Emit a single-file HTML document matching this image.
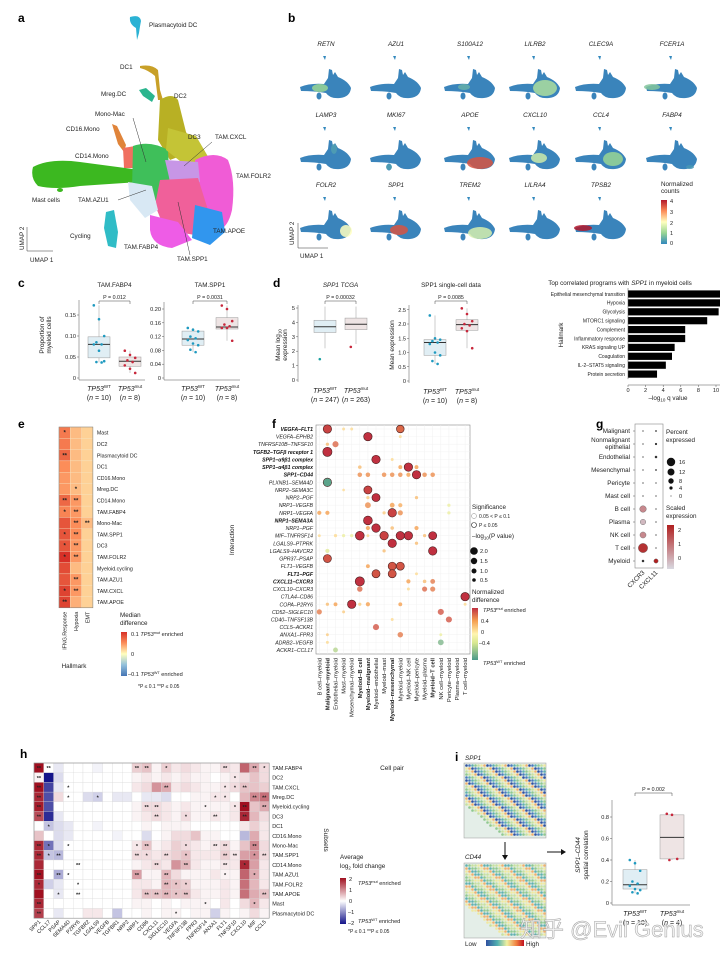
<!DOCTYPE html>
<html><head><meta charset="utf-8">
<style>
html,body{margin:0;padding:0;background:#fff;}
svg{display:block;font-family:"Liberation Sans","Noto Sans CJK SC",sans-serif;}
.pl{font-weight:bold;font-size:12px;}
.t{font-size:5.6px;fill:#222;}
.ti{font-size:5.6px;fill:#222;font-style:italic;}
.tb{font-size:5.6px;fill:#111;font-weight:bold;font-style:italic;}
</style></head>
<body>
<svg id="fig" width="720" height="959" viewBox="0 0 720 959" xmlns="http://www.w3.org/2000/svg">
<defs>
<linearGradient id="gSpec" x1="0" y1="1" x2="0" y2="0"><stop offset="0" stop-color="#3288bd"/><stop offset="0.25" stop-color="#99d594"/><stop offset="0.5" stop-color="#ffffbf"/><stop offset="0.75" stop-color="#fc8d59"/><stop offset="1" stop-color="#b2182b"/></linearGradient>
<linearGradient id="gRdYlBu" x1="0" y1="1" x2="0" y2="0"><stop offset="0" stop-color="#4575b4"/><stop offset="0.25" stop-color="#91bfdb"/><stop offset="0.5" stop-color="#ffffbf"/><stop offset="0.75" stop-color="#fc8d59"/><stop offset="1" stop-color="#d73027"/></linearGradient>
<linearGradient id="gF" x1="0" y1="1" x2="0" y2="0"><stop offset="0" stop-color="#4a9a8a"/><stop offset="0.33" stop-color="#d8e890"/><stop offset="0.5" stop-color="#fff5b0"/><stop offset="0.75" stop-color="#f5a050"/><stop offset="1" stop-color="#c03040"/></linearGradient>
<linearGradient id="gG" x1="0" y1="1" x2="0" y2="0"><stop offset="0" stop-color="#d8d8e0"/><stop offset="1" stop-color="#b02020"/></linearGradient>
<linearGradient id="gH" x1="0" y1="1" x2="0" y2="0"><stop offset="0" stop-color="#14148a"/><stop offset="0.5" stop-color="#ffffff"/><stop offset="1" stop-color="#a01020"/></linearGradient>
<linearGradient id="gI" x1="0" y1="0" x2="1" y2="0"><stop offset="0" stop-color="#3050a0"/><stop offset="0.3" stop-color="#50b0b0"/><stop offset="0.55" stop-color="#f0f0a0"/><stop offset="0.8" stop-color="#f08040"/><stop offset="1" stop-color="#c01020"/></linearGradient>
<symbol id="mini" viewBox="0 0 56 46" width="56" height="46">
<path d="M25,0 l3,0 l-1,4 z" fill="#3288bd"/>
<path d="M2,31 Q12,27 26,28 L30,22 L31,13 L34,14 L35,19 L37,16 L40,21 Q50,25 53,32 Q52,41 42,42 Q32,43 28,37 Q16,35 3,35 Z" fill="#3a84bb"/>
<ellipse cx="21" cy="40" rx="2.5" ry="3.5" fill="#3a84bb"/>
</symbol>
</defs>

<!-- Panel a -->
<g>
<text class="pl" x="18" y="22">a</text>
<path d="M130,17 Q140,14 141,21 Q140,26 139,33 L137,40 L136,28 Q129,24 130,17Z" fill="#2bb2d4"/>
<path d="M140,66 Q152,64 158,70 L160,90 L163,100 L158,100 L155,76 Q148,70 140,68Z" fill="#c8a028"/>
<path d="M139,90 L146,88 L155,96 L152,102 L143,96Z" fill="#2bb58e"/>
<path d="M160,100 Q172,92 178,100 L186,132 L196,150 L170,160 L158,140Z" fill="#b8b024"/>
<path d="M112,124 L117,126 L126,145 L124,152 L118,144Z" fill="#e0843a"/>
<path d="M33,167 Q50,158 80,162 Q110,166 140,170 L140,182 Q110,184 80,186 Q55,190 38,186 Q30,178 33,167Z" fill="#3cb820"/>
<ellipse cx="60" cy="190" rx="3" ry="2" fill="#3cb820"/>
<path d="M123,148 L135,146 L136,168 L124,168Z" fill="#f07060"/>
<path d="M133,146 Q150,140 168,150 L170,190 L150,205 L132,190Z" fill="#3fbf5a"/>
<path d="M168,128 L196,136 L210,160 L185,165 L166,150Z" fill="#c4c436"/>
<path d="M195,160 Q215,150 228,160 Q236,180 232,210 Q228,228 218,230 L200,205Z" fill="#f05cd6"/>
<path d="M165,160 L198,162 L200,182 L172,190Z" fill="#c796e6"/>
<path d="M160,180 L198,178 L208,210 L195,235 L165,230 L155,205Z" fill="#f0609a"/>
<path d="M195,205 L222,212 L225,232 L210,245 L192,238Z" fill="#3196ee"/>
<path d="M150,215 L178,222 L192,240 L172,248 Q152,246 150,230Z" fill="#ee5ce6"/>
<path d="M128,182 L152,186 L158,210 L145,218 L130,200Z" fill="#d8e8f4"/>
<path d="M106,212 L114,210 L118,232 L116,248 L108,246 L104,228Z" fill="#30bcc6"/>
<g fill="none" stroke="#333" stroke-width="0.5">
<line x1="133" y1="118" x2="146" y2="162"/><line x1="212" y1="142" x2="184" y2="166"/><line x1="118" y1="200" x2="146" y2="190"/><line x1="190" y1="255" x2="178" y2="202"/>
<polyline points="27,227 27,251 53,251"/>
</g>
<g class="t" style="font-size:6.3px">
<text x="149" y="27">Plasmacytoid DC</text><text x="120" y="69">DC1</text><text x="101" y="96">Mreg.DC</text><text x="174" y="98">DC2</text><text x="95" y="116">Mono-Mac</text><text x="66" y="131">CD16.Mono</text><text x="188" y="139">DC3</text><text x="215" y="139">TAM.CXCL</text><text x="75" y="158">CD14.Mono</text><text x="236" y="178">TAM.FOLR2</text><text x="32" y="202">Mast cells</text><text x="78" y="202">TAM.AZU1</text><text x="70" y="238">Cycling</text><text x="124" y="249">TAM.FABP4</text><text x="213" y="233">TAM.APOE</text><text x="177" y="261">TAM.SPP1</text>
<text x="30" y="262">UMAP 1</text><text transform="translate(24,250) rotate(-90)">UMAP 2</text>
</g>
</g>

<!-- Panel b -->
<g id="pb">
<text class="pl" x="288" y="22">b</text>
<polyline points="298,223 298,248 328,248" fill="none" stroke="#333" stroke-width="0.5"/>
<text class="t" x="300" y="258" style="font-size:6.3px">UMAP 1</text>
<text class="t" transform="translate(294,245) rotate(-90)" style="font-size:6.3px">UMAP 2</text>
<text class="t" x="661" y="186" style="font-size:6.3px">Normalized</text>
<text class="t" x="661" y="193" style="font-size:6.3px">counts</text>
<rect x="661" y="200" width="6" height="44" fill="url(#gSpec)"/>
<g class="t"><text x="670" y="203">4</text><text x="670" y="214">3</text><text x="670" y="225">2</text><text x="670" y="235">1</text><text x="670" y="245">0</text></g>
</g>

<!-- Panel c -->
<g id="pc">
<text class="pl" x="18" y="287">c</text>
<text class="t" transform="translate(44,335) rotate(-90)" text-anchor="middle" style="font-size:6.5px">Proportion of</text>
<text class="t" transform="translate(51,335) rotate(-90)" text-anchor="middle" style="font-size:6.5px">myeloid cells</text>
</g>

<!-- Panel d -->
<g id="pd">
<text class="pl" x="273" y="287">d</text>
<text class="t" transform="translate(280,345) rotate(-90)" text-anchor="middle" style="font-size:6.5px">Mean log<tspan font-size="4.5" dy="1.5">10</tspan></text>
<text class="t" transform="translate(287,345) rotate(-90)" text-anchor="middle" style="font-size:6.5px">expression</text>
<text class="t" transform="translate(394,345) rotate(-90)" text-anchor="middle" style="font-size:6.5px">Mean expression</text>
<text class="t" x="620" y="285" text-anchor="middle" style="font-size:6.3px">Top correlated programs with <tspan font-style="italic">SPP1</tspan> in myeloid cells</text>
<text class="t" transform="translate(563,335) rotate(-90)" text-anchor="middle" style="font-size:6.3px">Hallmark</text>
<text class="t" x="668" y="400" text-anchor="middle" style="font-size:6.3px">–log<tspan font-size="4.5" dy="1.5">10</tspan><tspan dy="-1.5"> q value</tspan></text>
</g>

<!-- Panel e -->
<g id="pe">
<text class="pl" x="18" y="428">e</text>
<text class="t" x="74" y="668" text-anchor="middle" style="font-size:6.3px">Hallmark</text>
<text class="t" x="120" y="617" style="font-size:6.3px">Median</text>
<text class="t" x="120" y="625" style="font-size:6.3px">difference</text>
<rect x="121" y="632" width="6" height="44" fill="url(#gRdYlBu)"/>
<text class="t" x="131" y="636">0.1 <tspan font-style="italic">TP53</tspan><tspan font-size="3.8" dy="-2">mut</tspan><tspan dy="2"> enriched</tspan></text>
<text class="t" x="131" y="656">0</text>
<text class="t" x="128" y="676">–0.1 <tspan font-style="italic">TP53</tspan><tspan font-size="3.8" dy="-2">WT</tspan><tspan dy="2"> enriched</tspan></text>
<text class="t" x="138" y="688" style="font-size:5px">*P ≤ 0.1   **P ≤ 0.05</text>
</g>

<!-- Panel f -->
<g id="pf">
<text class="pl" x="272" y="428">f</text>
<rect x="316" y="425" width="154" height="229" fill="none" stroke="#888" stroke-width="0.6"/>
<text class="t" transform="translate(234,540) rotate(-90)" text-anchor="middle" style="font-size:6.5px">Interaction</text>
<text class="t" x="392" y="770" text-anchor="middle" style="font-size:6.5px">Cell pair</text>
<text class="t" x="472" y="509" style="font-size:6.3px">Significance</text>
<circle cx="474" cy="516" r="2.5" fill="none" stroke="#888" stroke-width="0.5"/><text class="t" x="479" y="518" style="font-size:5px">0.05 &lt; P ≤ 0.1</text>
<circle cx="474" cy="525" r="2.5" fill="none" stroke="#222" stroke-width="0.6"/><text class="t" x="479" y="527" style="font-size:5px">P ≤ 0.05</text>
<text class="t" x="472" y="538" style="font-size:6.3px">–log<tspan font-size="4.5" dy="1.5">10</tspan><tspan dy="-1.5">(P value)</tspan></text>
<circle cx="474" cy="551" r="3.8" fill="#111"/><text class="t" x="480" y="553">2.0</text>
<circle cx="474" cy="561" r="3.2" fill="#111"/><text class="t" x="480" y="563">1.5</text>
<circle cx="474" cy="571" r="2.5" fill="#111"/><text class="t" x="480" y="573">1.0</text>
<circle cx="474" cy="580" r="1.8" fill="#111"/><text class="t" x="480" y="582">0.5</text>
<text class="t" x="472" y="594" style="font-size:6.3px">Normalized</text>
<text class="t" x="472" y="602" style="font-size:6.3px">difference</text>
<rect x="472" y="608" width="6" height="52" fill="url(#gF)"/>
<text class="ti" x="483" y="612">TP53<tspan font-size="3.8" dy="-2" font-style="normal">mut</tspan><tspan dy="2" font-style="normal"> enriched</tspan></text>
<text class="t" x="481" y="623">0.4</text><text class="t" x="481" y="634">0</text><text class="t" x="479" y="645">–0.4</text>
<text class="ti" x="483" y="665">TP53<tspan font-size="3.8" dy="-2" font-style="normal">WT</tspan><tspan dy="2" font-style="normal"> enriched</tspan></text>
</g>

<!-- Panel g -->
<g id="pg">
<text class="pl" x="596" y="428">g</text>
<rect x="635" y="424" width="28" height="144" fill="none" stroke="#888" stroke-width="0.6"/>
<text class="t" x="666" y="434" style="font-size:6.3px">Percent</text><text class="t" x="666" y="442" style="font-size:6.3px">expressed</text>
<circle cx="671" cy="462" r="4.2" fill="#111"/><text class="t" x="679" y="464">16</text>
<circle cx="671" cy="472" r="3.5" fill="#111"/><text class="t" x="679" y="474">12</text>
<circle cx="671" cy="481" r="2.7" fill="#111"/><text class="t" x="679" y="483">8</text>
<circle cx="671" cy="488" r="1.6" fill="#111"/><text class="t" x="679" y="490">4</text>
<circle cx="671" cy="496" r="0.5" fill="#111"/><text class="t" x="679" y="498">0</text>
<text class="t" x="666" y="510" style="font-size:6.3px">Scaled</text><text class="t" x="666" y="518" style="font-size:6.3px">expression</text>
<rect x="667" y="525" width="7" height="44" fill="url(#gG)"/>
<text class="t" x="678" y="532">2</text><text class="t" x="678" y="546">1</text><text class="t" x="678" y="560">0</text>
</g>

<!-- Panel h -->
<g id="ph">
<text class="pl" x="20" y="758">h</text>
<text class="t" transform="translate(324,840) rotate(90)" text-anchor="middle" style="font-size:6.5px">Subsets</text>
<text class="t" x="340" y="859" style="font-size:6.3px">Average</text>
<text class="t" x="340" y="868" style="font-size:6.3px">log<tspan font-size="4.5" dy="1.5">2</tspan><tspan dy="-1.5"> fold change</tspan></text>
<rect x="340" y="878" width="6" height="46" fill="url(#gH)"/>
<g class="t"><text x="349" y="881">2</text><text x="349" y="892">1</text><text x="349" y="903">0</text><text x="348" y="914">–1</text><text x="348" y="925">–2</text></g>
<text class="ti" x="358" y="885">TP53<tspan font-size="3.8" dy="-2" font-style="normal">mut</tspan><tspan dy="2" font-style="normal"> enriched</tspan></text>
<text class="ti" x="358" y="923">TP53<tspan font-size="3.8" dy="-2" font-style="normal">WT</tspan><tspan dy="2" font-style="normal"> enriched</tspan></text>
<text class="t" x="348" y="933" style="font-size:5px">*P ≤ 0.1   **P ≤ 0.05</text>
</g>

<!-- Panel i -->
<g id="pi">
<text class="pl" x="455" y="761">i</text>
<text class="ti" x="465" y="760" style="font-size:6.3px">SPP1</text>
<text class="ti" x="465" y="859" style="font-size:6.3px">CD44</text>
<rect x="464" y="763" width="82" height="75" fill="#e4eee8" stroke="#999" stroke-width="0.5"/>
<rect x="464" y="863" width="82" height="75" fill="#e4eee8" stroke="#999" stroke-width="0.5"/>
<line x1="505" y1="842" x2="505" y2="857" stroke="#111" stroke-width="1"/><path d="M502,855 L508,855 L505,860Z" fill="#111"/>
<line x1="547" y1="852" x2="562" y2="852" stroke="#111" stroke-width="1"/><path d="M561,849 L566,852 L561,855Z" fill="#111"/>
<text class="t" x="465" y="946" style="font-size:6.3px">Low</text>
<rect x="486" y="940" width="38" height="6" fill="url(#gI)"/>
<text class="t" x="526" y="946" style="font-size:6.3px">High</text>
<text class="ti" transform="translate(580,855) rotate(-90)" text-anchor="middle" style="font-size:6.3px">SPP1–CD44</text>
<text class="t" transform="translate(588,855) rotate(-90)" text-anchor="middle" style="font-size:6.3px">spatial correlation</text>
</g>
<text x="520" y="937" style="font-size:22px;fill:#f4f4f4;stroke:#999;stroke-width:0.5;opacity:0.9">知乎 @Evil Genius</text>
</svg>

<script>
var NS='http://www.w3.org/2000/svg';
var svg=document.getElementById('fig');
function mk(tag,attrs,parent,name){var el=document.createElementNS(NS,tag);for(var k in attrs)el.setAttribute(k,attrs[k]);


(parent||svg).appendChild(el);return el;}
function txt(x,y,s,cls,parent,name,anchor,extra){var el=mk('text',{x:x,y:y,'class':cls||'t'},parent,name);if(anchor)el.setAttribute('text-anchor',anchor);if(extra)el.setAttribute('style',extra);el.textContent=s;return el;}
function lerpC(stops,v){
 if(v<=stops[0][0])return rgb(stops[0][1]);
 for(var i=1;i<stops.length;i++){if(v<=stops[i][0]){var a=stops[i-1],b=stops[i],t=(v-a[0])/(b[0]-a[0]);return rgb([0,1,2].map(function(j){return a[1][j]+(b[1][j]-a[1][j])*t;}));}}
 return rgb(stops[stops.length-1][1]);}
function rgb(c){return 'rgb('+c.map(function(x){return Math.round(x);}).join(',')+')';}

// ---------- b: feature plots ----------
var bGenes=['RETN','AZU1','S100A12','LILRB2','CLEC9A','FCER1A','LAMP3','MKI67','APOE','CXCL10','CCL4','FABP4','FOLR2','SPP1','TREM2','LILRA4','TPSB2'];
var bHigh=[1,0,0.5,1.2,0,0.8,0.3,0.3,3.5,1.5,1,0.2,2,3.5,1.6,0,4];
var bColX=[326,396,470,535,601,672];
var bRowY=[46,117,187];
var gb=document.getElementById('pb');
var spec=[[0,[50,136,189]],[1,[153,213,148]],[2,[255,255,191]],[3,[252,141,89]],[4,[178,24,43]]];
var bRegion={RETN:[22,32,8,4],S100A12:[22,31,6,3],LILRB2:[38,32,12,8],FCER1A:[8,31,8,3],CXCL10:[32,31,8,5],CCL4:[40,32,10,7],APOE:[38,36,13,6],SPP1:[31,33,9,5],FOLR2:[48,34,6,6],TREM2:[38,36,12,6],TPSB2:[10,31,9,3],MKI67:[21,40,3,3],LAMP3:[36,22,3,5],FABP4:[46,40,4,2]};
bGenes.forEach(function(g,i){
 var cx=bColX[i%6], ty=bRowY[Math.floor(i/6)];
 txt(cx,ty,g,'ti',gb,'gene-title-'+g.toLowerCase(),'middle','font-size:6.3px');
 mk('use',{href:'#mini',x:cx-28,y:ty+10},gb,'umap-'+g.toLowerCase());
 var r=bRegion[g];
 if(r&&bHigh[i]>0){
  mk('ellipse',{cx:cx-28+r[0],cy:ty+10+r[1],rx:r[2],ry:r[3],fill:lerpC(spec,bHigh[i]),opacity:0.85},gb,'expression-'+g.toLowerCase());
 }
});

// ---------- c: boxplots ----------
var cTitles=['TAM.FABP4','TAM.SPP1'];
var cPvals=['P = 0.012','P = 0.0031'];
var cWT1=[0.173,0.14,0.10,0.085,0.08,0.08,0.065,0.04,0.038,0.037];
var cMut1=[0.065,0.055,0.048,0.042,0.038,0.03,0.022,0.012];
var cWT2=[0.145,0.14,0.135,0.12,0.115,0.11,0.1,0.095,0.082,0.075];
var cMut2=[0.21,0.2,0.165,0.155,0.15,0.145,0.145,0.108];
var cBoxWT1=[0.048,0.08,0.098], cBoxMut1=[0.028,0.04,0.05];
var cBoxWT2=[0.095,0.113,0.136], cBoxMut2=[0.142,0.148,0.175];
var cTicks1=[0,0.05,0.10,0.15], cTicks2=[0,0.04,0.08,0.12,0.16,0.20];
var cTickLab1=['0','0.05','0.10','0.15'], cTickLab2=['0','0.04','0.08','0.12','0.16','0.20'];
var WTc='#1f9ac0', MUTc='#c8283c';
function boxPanel(p){
 var g=p.g, y=function(v){return p.y0-(v-p.ymin)*p.sc;};
 mk('line',{x1:p.ax,y1:p.ytop,x2:p.ax,y2:p.y0+2,stroke:'#555','stroke-width':0.5},g,'y-axis');
 if(p.xaxis)mk('line',{x1:p.ax,y1:p.y0+2,x2:p.xr,y2:p.y0+2,stroke:'#555','stroke-width':0.5},g,'x-axis');
 p.ticks.forEach(function(v,i){mk('line',{x1:p.ax-2,y1:y(v),x2:p.ax,y2:y(v),stroke:'#555','stroke-width':0.5},g,'y-tick');txt(p.ax-3,y(v)+2,p.tlab[i],'t',g,'y-tick-label','end');});
 [[p.xw,p.bw,p.pw,p.cw,'#e0eef4'],[p.xm,p.bm,p.pm,p.cm,'#eee4e4']].forEach(function(s,k){
  var x=s[0],b=s[1];
  if(b[3]!==undefined){mk('line',{x1:x,y1:y(b[3]),x2:x,y2:y(b[4]),stroke:'#999','stroke-width':0.5},g,'whisker');}
  else {var mx=Math.max.apply(null,s[2]),mn=Math.min.apply(null,s[2]);mk('line',{x1:x,y1:y(mn),x2:x,y2:y(mx),stroke:'#999','stroke-width':0.5},g,'whisker');}
  mk('rect',{x:x-p.hw,y:y(b[2]),width:p.hw*2,height:y(b[0])-y(b[2]),fill:s[4],stroke:'#999','stroke-width':0.5},g,k?'box-mut':'box-wt');
  mk('line',{x1:x-p.hw,y1:y(b[1]),x2:x+p.hw,y2:y(b[1]),stroke:'#333','stroke-width':1},g,'median-line');
  s[2].forEach(function(v,i){mk('circle',{cx:x+((i*7)%5-2)*2.6,cy:y(v),r:1.3,fill:s[3]},g,k?'point-mut':'point-wt');});
 });
 txt((p.xw+p.xm)/2,p.ty,p.title,p.tcls||'t',g,'plot-title','middle','font-size:6.3px');
 var by=p.ty+14;
 mk('polyline',{points:p.xw+','+(by+3)+' '+p.xw+','+by+' '+p.xm+','+by+' '+p.xm+','+(by+3),fill:'none',stroke:'#444','stroke-width':0.5},g,'significance-bracket');
 txt((p.xw+p.xm)/2,by-2,p.pval,'t',g,'p-value','middle','font-size:5.3px');
 [[p.xw,'WT',p.nw],[p.xm,'mut',p.nm]].forEach(function(s){
  var t=mk('text',{x:s[0],y:p.y0+13,'class':'ti','text-anchor':'middle',style:'font-size:7px'},g,'x-label-tp53');
  t.innerHTML='TP53<tspan font-size="4.5" dy="-3" font-style="normal">'+s[1]+'</tspan>';
  var n=mk('text',{x:s[0],y:p.y0+22,'class':'t','text-anchor':'middle',style:'font-size:7px'},g,'x-label-n');
  n.innerHTML='(<tspan font-style="italic">n</tspan> = '+s[2]+')';
 });
}
var gc=document.getElementById('pc');
boxPanel({g:gc,ax:79,xr:145,y0:378,ymin:0,sc:420,ytop:300,ticks:cTicks1,tlab:cTickLab1,xw:99,xm:130,hw:11,bw:cBoxWT1,bm:cBoxMut1,pw:cWT1,pm:cMut1,cw:WTc,cm:MUTc,title:cTitles[0],pval:cPvals[0],ty:287,nw:10,nm:8,xaxis:true});
boxPanel({g:gc,ax:164,xr:240,y0:378,ymin:0,sc:345,ytop:302,ticks:cTicks2,tlab:cTickLab2,xw:193,xm:227,hw:11,bw:cBoxWT2,bm:cBoxMut2,pw:cWT2,pm:cMut2,cw:WTc,cm:MUTc,title:cTitles[1],pval:cPvals[1],ty:287,nw:10,nm:8,xaxis:true});

// ---------- d: boxplots ----------
var gd=document.getElementById('pd');
var dBoxWT1=[3.3,3.7,4.15,2.2,5.1], dBoxMut1=[3.5,3.87,4.3,2.5,5.1];
var dOutWT1=[1.45], dOutMut1=[2.3];
var dTicks1=[0,1,2,3,4,5], dTickLab1=['0','1','2','3','4','5'];
var dWT2=[2.3,1.5,1.45,1.4,1.35,1.3,1.0,0.9,0.7,0.6];
var dMut2=[2.55,2.35,2.1,2.0,1.95,1.85,1.75,1.15];
var dBoxWT2=[0.9,1.35,1.45], dBoxMut2=[1.78,1.98,2.15];
var dTicks2=[0,0.5,1.0,1.5,2.0,2.5], dTickLab2=['0','0.5','1.0','1.5','2.0','2.5'];
boxPanel({g:gd,ax:298,xr:372,y0:380,ymin:0,sc:14.4,ytop:305,ticks:dTicks1,tlab:dTickLab1,xw:325,xm:356,hw:11,bw:dBoxWT1,bm:dBoxMut1,pw:dOutWT1,pm:dOutMut1,cw:'#1aa0a0',cm:MUTc,title:'SPP1 TCGA',tcls:'ti',pval:'P = 0.00032',ty:287,nw:247,nm:263,xaxis:false});
boxPanel({g:gd,ax:409,xr:480,y0:381,ymin:0,sc:28.5,ytop:305,ticks:dTicks2,tlab:dTickLab2,xw:435,xm:467,hw:11,bw:dBoxWT2,bm:dBoxMut2,pw:dWT2,pm:dMut2,cw:WTc,cm:MUTc,title:'SPP1 single-cell data',pval:'P = 0.0085',ty:287,nw:10,nm:8,xaxis:false});

// hallmark bars
var hmNames=['Epithelial mesenchymal transition','Hypoxia','Glycolysis','MTORC1 signaling','Complement','Inflammatory response','KRAS signaling UP','Coagulation','IL-2–STAT5 signaling','Protein secretion'];
var hmVals=[11.5,11.2,10.3,9.0,6.5,6.5,5.3,5.0,4.3,3.3];
var hmTicks=[0,2,4,6,8,10];
var hx0=628, hsc=8.8, hy0=294, hstep=8.9;
hmNames.forEach(function(n,i){
 var yy=hy0+i*hstep;
 mk('rect',{x:hx0,y:yy-3.6,width:Math.min(hmVals[i]*hsc,720-hx0),height:7.2,fill:'#000'},gd,'hallmark-bar');
 txt(hx0-3,yy+1.8,n,'t',gd,'hallmark-label','end','font-size:5px');
});
mk('line',{x1:hx0,y1:hy0-6,x2:hx0,y2:hy0+9*hstep+5,stroke:'#555','stroke-width':0.5},gd,'hallmark-y-axis');
hmTicks.forEach(function(v){mk('line',{x1:hx0+v*hsc,y1:385,x2:hx0+v*hsc,y2:387,stroke:'#555','stroke-width':0.5},gd,'x-tick');txt(hx0+v*hsc,392,String(v),'t',gd,'x-tick-label','middle');});
mk('line',{x1:hx0,y1:385,x2:720,y2:385,stroke:'#555','stroke-width':0.5},gd,'hallmark-x-axis');

// ---------- e: heatmap ----------
var ge=document.getElementById('pe');
var eRows=['Mast','DC2','Plasmacytoid DC','DC1','CD16.Mono','Mreg.DC','CD14.Mono','TAM.FABP4','Mono-Mac','TAM.SPP1','DC3','TAM.FOLR2','Myeloid.cycling','TAM.AZU1','TAM.CXCL','TAM.APOE'];
var eCols=['IFNG.Response','Hypoxia','EMT'];
var eIFNG=[0.06,0.06,0.07,0.05,0.045,0.045,0.07,0.055,0.08,0.08,0.08,0.1,0.085,0.08,0.09,0.09];
var eHyp=[0.03,0.03,0.03,0.03,0.03,0.03,0.045,0.045,0.05,0.05,0.045,0.045,0.03,0.045,0.045,0.035];
var eEMT=[0.02,0.02,0.02,0.02,0.02,0.02,0.02,0.02,0.03,0.02,0.02,0.02,0.02,0.02,0.02,0.02];
var eStars=[['*','',''],['','',''],['**','',''],['','',''],['','',''],['','*',''],['**','**',''],['*','**',''],['','**','**'],['*','**',''],['*','**',''],['*','**',''],['','',''],['','**',''],['*','**',''],['**','','']];
var rdyl=[[-0.1,[69,117,180]],[-0.05,[145,191,219]],[0,[255,255,191]],[0.05,[252,141,89]],[0.1,[215,48,39]]];
var ex0=59, ey0=427, ecw=11.3, erh=11.3;
var eVals=[eIFNG,eHyp,eEMT];
eRows.forEach(function(r,i){
 eCols.forEach(function(c,j){
  mk('rect',{x:ex0+j*ecw,y:ey0+i*erh,width:ecw,height:erh,fill:lerpC(rdyl,eVals[j][i]),stroke:'#f4e8c8','stroke-width':0.3},ge,'e-cell');
  if(eStars[i][j])txt(ex0+j*ecw+ecw/2,ey0+i*erh+erh/2+2,eStars[i][j],'t',ge,'e-star','middle','font-size:6px;font-weight:bold');
 });
 txt(ex0+3*ecw+4,ey0+i*erh+erh/2+2,r,'t',ge,'e-row-label','start','font-size:5.3px');
});
mk('rect',{x:ex0,y:ey0,width:3*ecw,height:16*erh,fill:'none',stroke:'#777','stroke-width':0.5},ge,'e-frame');
eCols.forEach(function(c,j){txt(0,0,c,'t',ge,'e-col-label','end','font-size:5.3px').setAttribute('transform','translate('+(ex0+j*ecw+ecw/2+2)+','+(ey0+16*erh+4)+') rotate(-90)');});

// ---------- f: dot plot ----------
var gf=document.getElementById('pf');
var fRows=['VEGFA–FLT1','VEGFA–EPHB2','TNFRSF10B–TNFSF10','TGFB2–TGFβ receptor 1','SPP1–α9β1 complex','SPP1–α4β1 complex','SPP1–CD44','PLXNB1–SEMA4D','NRP2–SEMA3C','NRP2–PGF','NRP1–VEGFB','NRP1–VEGFA','NRP1–SEMA3A','NRP1–PGF','MIF–TNFRSF14','LGALS9–PTPRK','LGALS9–HAVCR2','GPR37–PSAP','FLT1–VEGFB','FLT1–PGF','CXCL11–CXCR3','CXCL10–CXCR3','CTLA4–CD86','COPA–P2RY6','CD52–SIGLEC10','CD40–TNFSF13B','CCL5–ACKR1','ANXA1–FPR3','ADRB2–VEGFB','ACKR1–CCL17'];
var fRowBold=[1,0,0,1,1,1,1,0,0,0,0,0,1,0,0,0,0,0,0,1,1,0,0,0,0,0,0,0,0,0];
var fCols=['B cell–myeloid','Malignant–myeloid','Endothelial–myeloid','Mast–myeloid','Mesenchymal–myeloid','Myeloid–B cell','Myeloid–malignant','Myeloid–endothelial','Myeloid–mast','Myeloid–mesenchymal','Myeloid–myeloid','Myeloid–NK cell','Myeloid–pericyte','Myeloid–plasma','Myeloid–T cell','NK cell–myeloid','Pericyte–myeloid','Plasma–myeloid','T cell–myeloid'];
var fColBold=[0,1,0,0,0,1,1,0,0,1,0,0,0,0,1,0,0,0,0];
var fDots=[[0,1,0.55,1.8,1],[0,10,0.45,1.6,1],[0,3,0.1,0.6,0],[0,4,0.1,0.6,0],[1,6,0.65,1.8,1],[1,10,0.1,0.6,0],[2,2,0.45,1.6,0],[2,1,0.2,0.7,0],[3,1,0.75,2.0,1],[4,7,0.6,1.8,1],[4,9,0.1,0.6,0],[5,11,0.6,1.8,1],[5,5,0.2,0.8,0],[5,10,0.3,0.9,0],[5,12,0.3,0.9,0],[6,12,0.6,1.8,1],[6,5,0.35,1.1,0],[6,6,0.35,1.1,0],[6,8,0.35,1.1,0],[6,9,0.35,1.1,0],[6,10,0.35,1.1,0],[6,11,0.3,1.0,0],[6,13,0.35,1.1,0],[6,14,0.35,1.1,0],[7,1,-0.55,1.8,1],[8,6,0.55,1.7,1],[8,3,0.1,0.5,0],[9,7,0.6,1.7,1],[9,6,0.15,0.7,0],[9,12,0.2,0.7,0],[10,6,0.35,1.5,0],[10,9,0.3,1.2,0],[10,10,0.25,1.0,0],[10,16,-0.1,0.7,0],[11,9,0.55,1.8,1],[11,10,0.35,1.3,0],[11,0,0.3,1.0,0],[11,1,0.3,1.0,0],[11,8,0.15,0.7,0],[11,16,-0.1,0.7,0],[12,6,0.7,1.9,1],[13,7,0.65,1.8,1],[13,6,0.3,1.0,0],[13,9,0.2,0.8,0],[13,12,0.3,1.0,0],[14,5,0.6,1.9,1],[14,8,0.55,1.8,1],[14,10,0.6,1.8,1],[14,11,0.6,1.8,1],[14,14,0.6,1.7,1],[14,0,0.1,0.6,0],[14,2,0.1,0.7,0],[14,3,-0.1,0.7,0],[14,4,-0.1,0.7,0],[14,6,0.1,0.6,0],[14,13,0.2,0.7,0],[15,9,0.6,1.8,1],[15,12,0.2,0.7,0],[16,14,0.65,1.8,1],[16,1,-0.15,1.0,0],[16,8,0.2,0.7,0],[17,1,0.5,1.7,1],[18,9,0.5,1.7,1],[18,10,0.5,1.7,1],[18,6,0.3,0.9,0],[19,7,0.5,1.7,1],[19,9,0.5,1.7,1],[19,12,0.1,0.6,0],[20,5,0.65,2.0,1],[20,11,0.3,1.0,0],[20,14,0.4,1.2,0],[20,13,0.2,0.8,0],[21,5,0.45,1.4,0],[21,13,0.45,1.3,0],[21,14,0.4,1.3,0],[21,11,0.1,0.6,0],[22,18,0.6,1.8,1],[23,4,0.6,1.8,1],[23,6,0.3,1.0,0],[23,2,0.3,0.9,0],[23,1,0.2,0.7,0],[23,5,0.15,0.7,0],[23,10,0.3,0.9,0],[23,18,0.1,0.6,0],[24,0,0.4,1.3,0],[24,15,0.5,1.6,0],[24,3,0.15,0.6,0],[25,16,0.5,1.6,0],[25,9,0.1,0.6,0],[26,7,0.5,1.6,0],[27,10,0.4,1.4,0],[27,1,0.15,0.6,0],[27,15,-0.1,0.6,0],[28,15,-0.45,1.5,0],[28,1,0.1,0.6,0],[29,2,-0.3,1.2,0]];
var fcm=[[-0.6,[74,154,138]],[-0.2,[216,232,144]],[0,[255,245,176]],[0.3,[245,160,80]],[0.6,[192,48,64]]];
var fx0=319.3, fdx=8.1, fy0=429, fdy=7.62;
fCols.forEach(function(c,j){mk('line',{x1:fx0+j*fdx,y1:425,x2:fx0+j*fdx,y2:654,stroke:'#eee','stroke-width':0.4},gf,'f-grid-col');});
fRows.forEach(function(r,i){
 mk('line',{x1:316,y1:fy0+i*fdy,x2:470,y2:fy0+i*fdy,stroke:'#f0f0f0','stroke-width':0.4},gf,'f-grid-row');
 txt(313,fy0+i*fdy+2,r,fRowBold[i]?'tb':'ti',gf,'f-row-label','end','font-size:5.2px');
});
fCols.forEach(function(c,j){var t=txt(0,0,c,'t',gf,'f-col-label','end','font-size:5.8px'+(fColBold[j]?';font-weight:bold':''));t.setAttribute('transform','translate('+(fx0+j*fdx+2)+',658) rotate(-90)');});
fDots.forEach(function(d){
 var c=mk('circle',{cx:fx0+d[1]*fdx,cy:fy0+d[0]*fdy,r:d[4]?(0.9+d[3]*1.85):(0.5+d[3]*1.6),fill:lerpC(fcm,d[2]),opacity:d[4]?1:0.8},gf,'f-dot');
 if(d[4]){c.setAttribute('stroke','#4a2020');c.setAttribute('stroke-width','0.6');}
});

// ---------- g: dot plot ----------
var gg=document.getElementById('pg');
var gRows=['Malignant','Nonmalignant epithelial','Endothelial','Mesenchymal','Pericyte','Mast cell','B cell','Plasma','NK cell','T cell','Myeloid'];
var gCols=['CXCR3','CXCL11'];
var gPctCXCR3=[0.3,0.3,0.3,0.3,0.3,0.3,7,5,6,14,1];
var gPctCXCL11=[0.5,0.8,1,0.5,0.3,0.3,0.3,0.3,0.3,0.3,3];
var gScCXCR3=[0,0,0,0,0,0,0.8,0,0.8,2.2,0.5];
var gScCXCL11=[0,0,0,0,0,0,0,0,0,0,2.5];
var gy0=431, gdy=13, gx=[643,656];
var gcm=[[-0.5,[216,216,224]],[2.5,[176,32,32]]];
gRows.forEach(function(r,i){
 var yy=gy0+i*gdy;
 if(i===1){txt(630,yy-2,'Nonmalignant','t',gg,'g-row-label','end','font-size:6.3px');txt(630,yy+5,'epithelial','t',gg,'g-row-label','end','font-size:6.3px');}
 else txt(630,yy+2,r,'t',gg,'g-row-label','end','font-size:6.3px');
 mk('line',{x1:633,y1:yy,x2:635,y2:yy,stroke:'#555','stroke-width':0.5},gg,'g-tick');
 [[gPctCXCR3,gScCXCR3],[gPctCXCL11,gScCXCL11]].forEach(function(s,j){
  var p=s[0][i];var c=mk('circle',{cx:gx[j],cy:yy,r:Math.max(0.4,Math.sqrt(p/16)*5),fill:p<1.5?'#333':lerpC(gcm,s[1][i])},gg,'g-dot');
  if(p>=1.5){c.setAttribute('stroke','#666');c.setAttribute('stroke-width','0.4');}
 });
});
gCols.forEach(function(c,j){var t=txt(0,0,c,'t',gg,'g-col-label','end','font-size:6.3px');t.setAttribute('transform','translate('+(gx[j]+2)+',573) rotate(-45)');});

// ---------- h: heatmap ----------
var gh=document.getElementById('ph');
var hRows=['TAM.FABP4','DC2','TAM.CXCL','Mreg.DC','Myeloid.cycling','DC3','DC1','CD16.Mono','Mono-Mac','TAM.SPP1','CD14.Mono','TAM.AZU1','TAM.FOLR2','TAM.APOE','Mast','Plasmacytoid DC'];
var hCols=['SPP1','CCL17','PSAP','SEMA4D','P2RY6','TGFBR2','LGALS9','VEGFB','TGFBR1','NRP2','NRP1','CD86','CXCL11','SIGLEC10','VEGFA','TNFSF13B','FPR3','TNFRSF14','ANXA1','FLT1','TNFSF10','CXCL10','MIF','CCL5'];
var hVals=[
[2.2,0,-0.2,0,0,0,-0.1,0,0,0,0.4,0.5,0.1,0.4,0.2,0.3,0.2,0.1,0.1,0.3,0.2,1.3,0.7,0.3],
[0.1,-2.2,-0.3,0,0,0,0,0,0,0,0.1,0.2,0.1,0.2,0.1,0.2,0.1,0.1,0,0.1,0.2,0.3,0.5,0.3],
[2,-1.6,-0.2,0,0,0,0,0,0,0,0.2,0.3,0.9,0.7,0.2,0.3,0.2,0.1,0.1,0.2,0.3,0.5,0.5,0.4],
[1.8,-1.5,0.3,0,0,-0.3,-0.4,0,-0.2,-0.2,0,-0.2,-0.2,-0.3,0,0,0.1,0.1,0.2,0.2,0,0.6,1,1.2],
[1.9,-1.5,0,0,0,0,0,0,0,0,0.1,0.3,0.3,0.2,0.1,0.2,0.1,0.1,0.1,0.1,0.2,2,0.5,0.7],
[1.5,-1.8,-0.2,0,0,0,0,0,0,0,0.1,0.2,0.3,0.2,0.1,0.3,0.1,0.1,0.2,0.1,0.2,1.8,0.6,0.3],
[0,-0.5,-0.3,-0.2,0,0,-0.1,0,0,0,0,0.1,0,0.1,0.1,0.1,0,0,0,0,0,0.2,0.4,0.2],
[0.5,0,-0.3,-0.2,0,0,0,0,-0.1,0,0,-0.3,0,0.1,0.3,0.3,0.5,0.1,0.1,0,0,-0.6,0.7,0.2],
[1.8,-1.2,-0.3,0,0,0,0,0,0,0,0.2,0.5,0.1,0.2,0.4,0.3,0.2,0.1,0.2,0.3,0.1,0.5,1,0.3],
[1.8,-0.5,-0.6,0,0,0,0,0,0,0,0.3,0.3,0.2,0.3,0.4,0.5,0.2,0.2,0.2,0.4,0.2,0.8,0.9,0.3],
[1.8,0,0,0,0,0,0,0,0,0,0.1,0.2,0.3,0.2,0.9,0.6,0.2,0.1,0.1,0.2,0.2,1.8,0.8,0.2],
[2,0,-0.7,0,0,0,0,0,0,0,0.8,0.1,0.1,0.6,0.3,0.1,0.1,0.1,0.2,0.1,0.1,1.3,0.7,0.2],
[1.8,-0.4,-0.2,0,0,0,0,0,0,0,0.2,0.2,0.1,0.6,0.5,0.4,0.1,0.1,0.1,0.2,0.1,1.2,0.6,0.2],
[2,0,-0.2,0,0,0,0,0,0,0,0.2,0.5,0.5,0.6,0.5,0.5,0.2,0.1,0.1,0.2,0.1,1.2,0.7,0.5],
[1.8,0,0,0,0,0,0,0,0,0,0.1,0.1,0,0.1,0,0.1,0.1,0.1,0,0.2,0,0.3,0.6,0.2],
[1.6,0,-0.2,0,0,0.2,0.2,0,-0.5,0,0,0.1,0,0.1,0.1,0,0.1,0.1,-0.4,0.1,0,0.1,0.3,0.1]];
var hStars=[[0,0,'**'],[0,1,'**'],[0,10,'**'],[0,11,'**'],[0,13,'*'],[0,19,'**'],[0,22,'**'],[0,23,'*'],[1,0,'**'],[1,20,'*'],[2,0,'**'],[2,3,'*'],[2,13,'**'],[2,19,'*'],[2,20,'*'],[2,21,'**'],[3,0,'**'],[3,3,'*'],[3,6,'*'],[3,18,'*'],[3,19,'*'],[3,22,'**'],[3,23,'**'],[4,0,'**'],[4,11,'**'],[4,12,'**'],[4,17,'*'],[4,20,'*'],[4,21,'**'],[4,23,'**'],[5,0,'**'],[5,12,'**'],[5,15,'*'],[5,18,'**'],[5,21,'**'],[6,1,'*'],[8,0,'**'],[8,1,'*'],[8,3,'*'],[8,10,'*'],[8,11,'**'],[8,15,'*'],[8,18,'**'],[8,19,'**'],[8,22,'**'],[9,0,'**'],[9,1,'*'],[9,2,'**'],[9,10,'**'],[9,11,'*'],[9,13,'**'],[9,15,'*'],[9,19,'**'],[9,20,'**'],[9,22,'*'],[9,23,'**'],[10,4,'**'],[10,12,'**'],[10,15,'**'],[10,19,'**'],[10,21,'*'],[11,0,'**'],[11,2,'**'],[11,3,'*'],[11,10,'**'],[11,13,'**'],[11,19,'*'],[11,22,'*'],[12,0,'*'],[12,4,'*'],[12,13,'**'],[12,14,'*'],[12,15,'*'],[13,2,'*'],[13,4,'**'],[13,11,'**'],[13,12,'**'],[13,13,'**'],[13,14,'*'],[13,15,'**'],[13,23,'**'],[14,0,'**'],[14,17,'*'],[14,22,'*'],[15,0,'**'],[15,14,'*']];
var hcm=[[-2,[20,20,138]],[0,[255,255,255]],[2,[160,16,32]]];
var hx0=34, hy0=763, hcw=9.8, hrh=9.7;
hVals.forEach(function(row,i){row.forEach(function(v,j){
 mk('rect',{x:hx0+j*hcw,y:hy0+i*hrh,width:hcw,height:hrh,fill:lerpC(hcm,v),stroke:'#d8d8d8','stroke-width':0.3},gh,'h-cell');
});
 txt(hx0+24*hcw+3,hy0+i*hrh+hrh/2+2,hRows[i],'t',gh,'h-row-label','start','font-size:5.5px');
});
hStars.forEach(function(s){txt(hx0+s[1]*hcw+hcw/2,hy0+s[0]*hrh+hrh/2+2.3,s[2],'t',gh,'h-star','middle','font-size:5.5px;font-weight:bold');});
mk('rect',{x:hx0,y:hy0,width:24*hcw,height:16*hrh,fill:'none',stroke:'#888','stroke-width':0.6},gh,'h-frame');
hCols.forEach(function(c,j){var t=txt(0,0,c,'t',gh,'h-col-label','end','font-size:5.3px');t.setAttribute('transform','translate('+(hx0+j*hcw+hcw/2+2)+','+(hy0+16*hrh+4)+') rotate(-45)');});

// ---------- i: spatial images (decorative mosaic) + boxplot ----------
var gi=document.getElementById('pi');
var icols=['#3050a0','#4a7ac0','#60b0b0','#90c890','#c8e0a0','#f0e8a0','#f0b070','#e06040'];
[[763,0],[863,1]].forEach(function(o){
 for(var yy=0;yy<72;yy+=3)for(var xx=0;xx<80;xx+=3){
  if(yy>40&&xx<(yy-40)*1.2)continue;
  var h=((xx*37+yy*91+o[1]*13)%97)/97;
  var k=o[1]?Math.floor(2+h*5):Math.floor(h*7);
  mk('circle',{cx:465+xx+1.5,cy:o[0]+1+yy+1.5,r:1.3,fill:icols[k]},gi,'spot');
 }
});
var iWT=[0.4,0.37,0.3,0.2,0.18,0.16,0.13,0.12,0.1,0.09];
var iMut=[0.83,0.82,0.41,0.40];
var iBoxWT=[0.13,0.17,0.31], iBoxMut=[0.41,0.61,0.82];
var iTicks=[0,0.2,0.4,0.6,0.8], iTickLab=['0','0.2','0.4','0.6','0.8'];
boxPanel({g:gi,ax:612,xr:690,y0:903,ymin:0,sc:107.5,ytop:800,ticks:iTicks,tlab:iTickLab,xw:635,xm:672,hw:12,bw:iBoxWT,bm:iBoxMut,pw:iWT,pm:iMut,cw:WTc,cm:MUTc,title:'',pval:'P = 0.002',ty:779,nw:10,nm:4,xaxis:true});
</script>
</body></html>
